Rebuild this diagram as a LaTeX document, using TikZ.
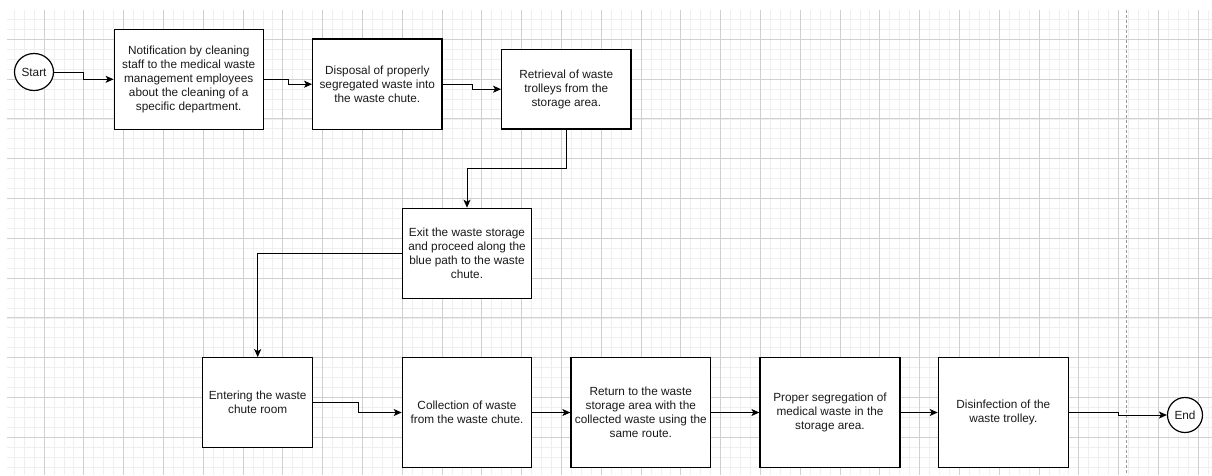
\documentclass[tikz,border=0pt]{standalone}
\usepackage{fontspec}
\setmainfont{Liberation Sans}
\usetikzlibrary{arrows.meta,shapes.geometric}
\definecolor{minorgrid}{HTML}{EFEFEF}
\definecolor{majorgrid}{HTML}{D0D0D0}
\definecolor{txt}{HTML}{1A1A1A}
\tikzset{
  box/.style={draw=black, line width=1.2pt, fill=white, rectangle, inner sep=0pt, align=center,
    text=txt, font=\fontsize{11.8}{14}\selectfont},
  term/.style={draw=black, line width=1.2pt, fill=white, ellipse, inner sep=0pt,
    text=txt, font=\fontsize{11.8}{14}\selectfont},
  conn/.style={draw=black, line width=1pt, -{Stealth[length=8pt,width=7pt,inset=2pt]}},
  minorline/.style={draw=minorgrid, line width=0.8pt},
  majorline/.style={draw=majorgrid, line width=0.9pt},
}
\begin{document}
\begin{tikzpicture}[x=1pt,y=-1pt]
\useasboundingbox (0,0) rectangle (1212,475);
\fill[white] (0,0) rectangle (1212,475);
% grid
\foreach \i in {-3,...,117} { \draw[minorline] ({44+\i*9.95},10) -- ({44+\i*9.95},475); }
\foreach \j in {-2,...,43} { \draw[minorline] (7,{39.3+\j*9.95}) -- (1212,{39.3+\j*9.95}); }
\foreach \k in {0,...,29} { \draw[majorline] ({44+\k*39.8},10) -- ({44+\k*39.8},475); }
\foreach \k in {0,...,10} { \draw[majorline] (7,{39.3+\k*39.8}) -- (1212,{39.3+\k*39.8}); }
\draw[draw=gray!80, line width=1pt, dash pattern=on 3pt off 2pt] (1126.7,10) -- (1126.7,475);
% nodes
\node[term, minimum width=39, minimum height=37] (start) at (34,72) {Start};
\node[box, minimum width=149, minimum height=100] (b1) at (188.7,79.3)
  {Notification by cleaning\\staff to the medical waste\\management employees\\about the cleaning of a\\specific department.};
\node[box, minimum width=129.3, minimum height=90.3] (b2) at (377.3,84.2)
  {Disposal of properly\\segregated waste into\\the waste chute.};
\node[box, minimum width=129.3, minimum height=79.7] (b3) at (566.3,89.2)
  {Retrieval of waste\\trolleys from the\\storage area.};
\node[box, minimum width=129.4, minimum height=90] (b4) at (467,253.3)
  {Exit the waste storage\\and proceed along the\\blue path to the waste\\chute.};
\node[box, minimum width=110, minimum height=90] (b5) at (257.7,402.7)
  {Entering the waste\\chute room};
\node[box, minimum width=129.4, minimum height=109.6] (b6) at (467,412.5)
  {Collection of waste\\from the waste chute.};
\node[box, minimum width=139.7, minimum height=109.6] (b7) at (640.8,412.5)
  {Return to the waste\\storage area with the\\collected waste using the\\same route.};
\node[box, minimum width=140, minimum height=109.6] (b8) at (830,412.5)
  {Proper segregation of\\medical waste in the\\storage area.};
\node[box, minimum width=130, minimum height=109.6] (b9) at (1003.3,412.5)
  {Disinfection of the\\waste trolley.};
\node[term, minimum width=35, minimum height=35] (end) at (1185,415) {End};
% connectors
\draw[conn] (start.east) -- ++(29.7,0) |- (b1.west);
\draw[conn] (b1.east) -- ++(24.4,0) |- (b2.west);
\draw[conn] (b2.east) -- ++(29.7,0) |- (b3.west);
\draw[conn] (b3.south) -- ++(0,39.3) -| (b4.north);
\draw[conn] (b4.west) -| (b5.north);
\draw[conn] (b5.east) -- ++(45,0) |- (b6.west);
\draw[conn] (b6.east) -- (b7.west);
\draw[conn] (b7.east) -- (b8.west);
\draw[conn] (b8.east) -- (b9.west);
\draw[conn] (b9.east) -- ++(50,0) |- (end.west);
\end{tikzpicture}
\end{document}
